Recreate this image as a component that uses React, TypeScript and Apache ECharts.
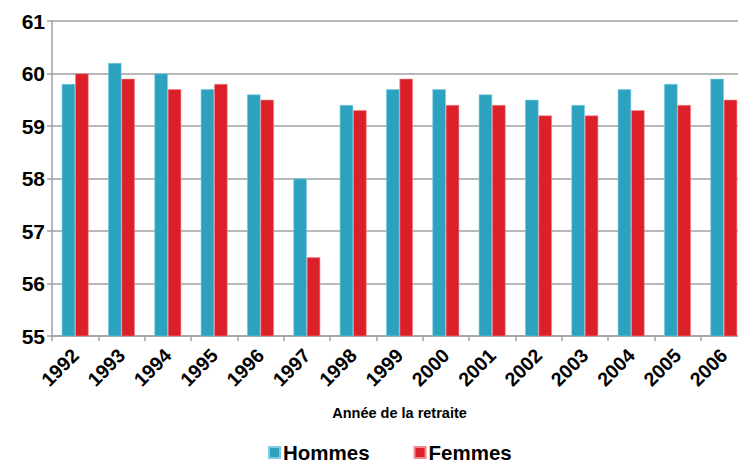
import React, { useEffect, useRef } from "react";
import * as echarts from "echarts";

const categories = ["1992","1993","1994","1995","1996","1997","1998","1999","2000","2001","2002","2003","2004","2005","2006"];
const hommes = [59.8, 60.2, 60.0, 59.7, 59.6, 58.0, 59.4, 59.7, 59.7, 59.6, 59.5, 59.4, 59.7, 59.8, 59.9];
const femmes = [60.0, 59.9, 59.7, 59.8, 59.5, 56.5, 59.3, 59.9, 59.4, 59.4, 59.2, 59.2, 59.3, 59.4, 59.5];

const FONT = "'Liberation Sans', Arial, sans-serif";

export default function App() {
  const ref = useRef<HTMLDivElement>(null);
  useEffect(() => {
    if (!ref.current) return;
    const chart = echarts.init(ref.current, null, { renderer: "svg" });
    chart.setOption({
      animation: false,
      backgroundColor: "#ffffff",
      grid: { left: 52, right: 13, top: 21, bottom: 128, containLabel: false },
      legend: {
        top: 442,
        left: 268,
        padding: 0,
        itemWidth: 11,
        itemHeight: 11,
        itemGap: 44,
        icon: "rect",
        textStyle: { fontFamily: FONT, fontWeight: "bold", fontSize: 20.5, color: "#000", padding: [0, 0, 0, -2] },
        data: ["Hommes", "Femmes"],
      },
      xAxis: {
        type: "category",
        data: categories,
        name: "Année de la retraite",
        nameLocation: "middle",
        nameGap: 69,
        nameTextStyle: { fontFamily: FONT, fontWeight: "bold", fontSize: 14.5, color: "#000" },
        axisLine: { lineStyle: { color: "#a0a0a0", width: 1.5 } },
        axisTick: { show: true, length: 5, lineStyle: { color: "#a0a0a0", width: 1.5 } },
        axisLabel: { rotate: 45, fontFamily: FONT, fontWeight: "bold", fontSize: 19.5, color: "#000", margin: 16 },
      },
      yAxis: {
        type: "value",
        min: 55,
        max: 61,
        interval: 1,
        axisLine: { show: true, lineStyle: { color: "#a0a0a0", width: 1.5 } },
        axisTick: { show: true, length: 5, lineStyle: { color: "#a0a0a0", width: 1.5 } },
        splitLine: { lineStyle: { color: "#a0a0a0", width: 1.5 } },
        axisLabel: { fontFamily: FONT, fontWeight: "bold", fontSize: 21, color: "#000", margin: 7 },
      },
      series: [
        {
          name: "Hommes",
          type: "bar",
          data: hommes,
          barWidth: 13.4,
          barGap: "0%",
          itemStyle: { color: "#2ca2bf", borderColor: "#7fcbe0", borderWidth: 0.6 },
        },
        {
          name: "Femmes",
          type: "bar",
          data: femmes,
          barWidth: 13.4,
          barGap: "0%",
          itemStyle: { color: "#dc2029", borderColor: "#f08a8f", borderWidth: 0.6 },
        },
      ],
    });
    return () => chart.dispose();
  }, []);
  return (
    <div style={{ position: "fixed", left: 0, top: 0, width: 738, height: 464, overflow: "hidden", background: "#fff" }}>
      <div ref={ref} style={{ width: 760, height: 464 }} />
    </div>
  );
}
